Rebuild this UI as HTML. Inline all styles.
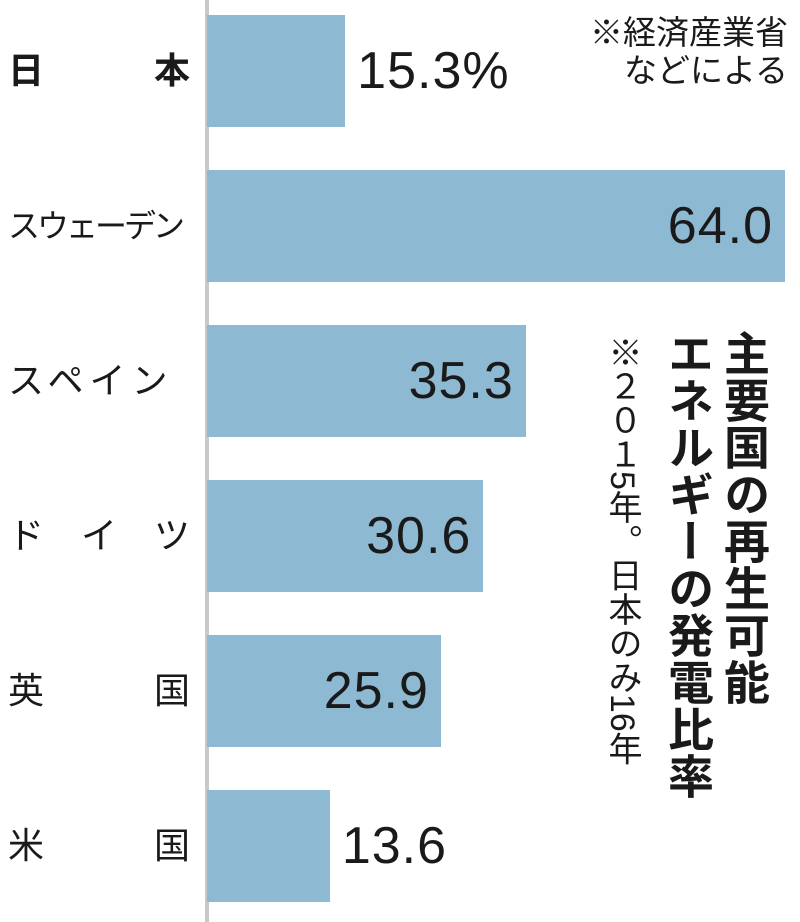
<!DOCTYPE html>
<html><head><meta charset="utf-8">
<style>
body{margin:0;background:#fff;}
#wrap{position:relative;width:800px;height:922px;overflow:hidden;font-family:"Liberation Sans","Noto Sans CJK JP",sans-serif;color:#1a1a1a;}
.cat{position:absolute;left:8px;width:182px;font-size:36px;line-height:40px;display:flex;justify-content:space-between;white-space:nowrap;}
.bar{position:absolute;background:#8db9d2;}
.val{position:absolute;font-size:52px;line-height:56px;letter-spacing:1px;white-space:nowrap;}
.vt{position:absolute;writing-mode:vertical-rl;white-space:nowrap;}
</style></head><body>
<div id="wrap">
<div style="position:absolute;left:205px;top:0;width:4px;height:922px;background:#c8c8c8"></div>
<div style="position:absolute;left:560px;top:14px;font-size:33px;line-height:38px;text-align:right;width:228px;">※経済産業省<br>などによる</div>
<div class="vt" style="left:660px;top:330px;font-size:46px;line-height:56px;font-weight:bold;letter-spacing:1px;">主要国の再生可能<br>エネルギーの発電比率</div>
<div class="vt" style="left:602px;top:335px;font-size:34px;line-height:40px;">※２０１5年。日本のみ16年</div>
</div>
<script>
const categories=["日本","スウェーデン","スペイン","ドイツ","英国","米国"];
const values=[15.3,64.0,35.3,30.6,25.9,13.6];
const valueLabels=["15.3%","64.0","35.3","30.6","25.9","13.6"];
const wrap=document.getElementById('wrap');
const x0=207,xScale=v=>x0+v*(578/64);
const yTop=i=>15+i*155,barH=112;
categories.forEach((c,i)=>{
 const y=yTop(i);
 const b=document.createElement('div');b.className='bar';
 
 
 b.style.left=x0+'px';b.style.top=y+'px';b.style.width=(xScale(values[i])-x0)+'px';b.style.height=barH+'px';
 wrap.appendChild(b);
 const l=document.createElement('div');l.className='cat';
 
 
 l.style.top=(y+barH/2-20)+'px';
 if(c.length==2){l.innerHTML='<span>'+c[0]+'</span><span>'+c[1]+'</span>';}
 else if(c=="ドイツ"){l.innerHTML='<span>ド</span><span>イ</span><span>ツ</span>';}
 else if(c.length>4){l.textContent=c;l.style.justifyContent='flex-start';l.style.fontSize='32px';l.style.letterSpacing='-3px';}
 else{l.textContent=c;l.style.justifyContent='flex-start';l.style.letterSpacing='6px';}
 if(i==0)l.style.fontWeight='bold';
 wrap.appendChild(l);
 const v=document.createElement('div');v.className='val';
 
 
 v.textContent=valueLabels[i];
 v.style.top=(y+barH/2-28)+'px';
 const xe=xScale(values[i]);
 if(values[i]<20){v.style.left=(xe+12)+'px';}
 else{v.style.right=(800-xe+12)+'px';}
 wrap.appendChild(v);
});
</script>
</body></html>
